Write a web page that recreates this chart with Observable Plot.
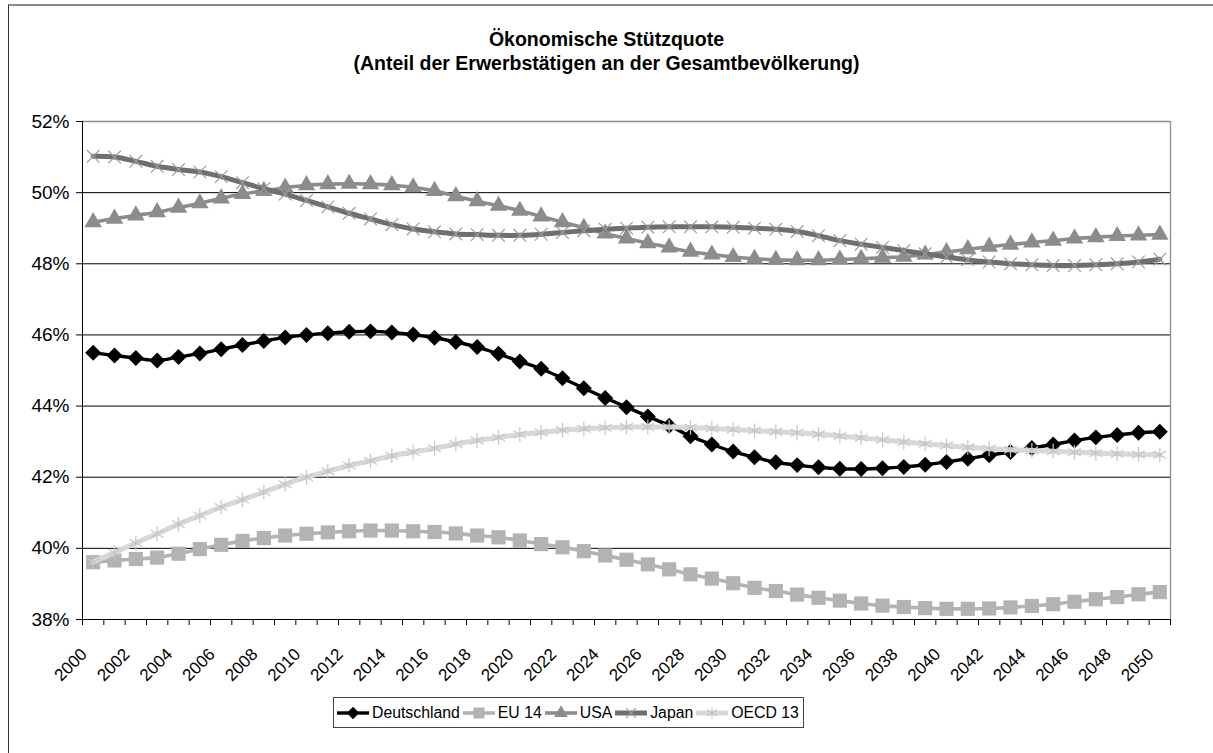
<!DOCTYPE html>
<html>
<head>
<meta charset="utf-8">
<script src="https://cdn.jsdelivr.net/npm/d3@7"></script>
<script src="https://cdn.jsdelivr.net/npm/@observablehq/plot@0.6"></script>
<style>
  body { margin: 0; background: #fff; font-family: "Liberation Sans", Arial, sans-serif; }
  #wrap { position: relative; width: 1213px; height: 753px; overflow: hidden; background: #fff; }
  #frame { position: absolute; left: 8px; top: 4px; width: 1260px; height: 800px; border-top: 2px solid #8c8c8c; border-left: 1px solid #333; }
  #title { position: absolute; left: 8px; width: 1197px; top: 27px; text-align: center; font-weight: bold; font-size: 19.5px; line-height: 24px; color: #000; }
  #chart { position: absolute; left: 0; top: 0; }
  #legend { position: absolute; left: 333px; top: 697px; height: 29px; border: 1px solid #444; background: #fff; display: flex; align-items: center; padding: 0 2px 0 2px; font-size: 15.8px; color: #000; white-space: nowrap; }
  #legend .item { display: flex; align-items: center; margin-right: 2px; }
  #legend svg { margin-right: 2px; }
</style>
</head>
<body>
<div id="wrap">
  <div id="frame"></div>
  <div id="chart"></div>
  <div id="title">Ökonomische Stützquote<br>(Anteil der Erwerbstätigen an der Gesamtbevölkerung)</div>
  <div id="legend"></div>
</div>
<script>
// ---- Data ----
const years = [2000,2001,2002,2003,2004,2005,2006,2007,2008,2009,
  2010,2011,2012,2013,2014,2015,2016,2017,2018,2019,
  2020,2021,2022,2023,2024,2025,2026,2027,2028,2029,
  2030,2031,2032,2033,2034,2035,2036,2037,2038,2039,
  2040,2041,2042,2043,2044,2045,2046,2047,2048,2049,2050];

const labelYears = [2000,2002,2004,2006,2008,2010,2012,2014,2016,2018,2020,2022,2024,
  2026,2028,2030,2032,2034,2036,2038,2040,2042,2044,2046,2048,2050];

const yTicks = [38, 40, 42, 44, 46, 48, 50, 52];

const seriesNames = ["Deutschland", "EU 14", "USA", "Japan", "OECD 13"];

const deutschland = [45.50,45.42,45.35,45.28,45.38,45.48,45.60,45.72,45.83,45.93,
  46.00,46.05,46.09,46.10,46.07,46.01,45.92,45.80,45.66,45.47,
  45.25,45.05,44.78,44.50,44.23,43.97,43.71,43.45,43.15,42.92,
  42.72,42.56,42.42,42.34,42.28,42.24,42.23,42.25,42.29,42.35,
  42.43,42.52,42.62,42.71,42.82,42.92,43.03,43.12,43.19,43.25,43.28];

const eu14 = [39.61,39.66,39.70,39.74,39.85,39.98,40.10,40.21,40.29,40.36,
  40.41,40.45,40.48,40.50,40.50,40.48,40.46,40.42,40.36,40.31,
  40.22,40.12,40.03,39.92,39.80,39.68,39.55,39.41,39.27,39.15,
  39.02,38.89,38.80,38.70,38.61,38.53,38.45,38.39,38.35,38.32,
  38.30,38.30,38.31,38.34,38.38,38.43,38.50,38.57,38.63,38.71,38.77];

const usa = [49.17,49.27,49.36,49.45,49.58,49.70,49.84,49.96,50.05,50.14,
  50.21,50.24,50.25,50.24,50.21,50.15,50.05,49.90,49.76,49.63,
  49.49,49.33,49.17,49.01,48.85,48.71,48.58,48.46,48.34,48.26,
  48.19,48.14,48.11,48.10,48.10,48.12,48.14,48.17,48.20,48.26,
  48.33,48.41,48.48,48.54,48.60,48.65,48.71,48.75,48.78,48.80,48.82];

const japan = [51.02,51.00,50.88,50.74,50.65,50.58,50.45,50.28,50.11,49.96,
  49.78,49.60,49.42,49.26,49.10,48.98,48.90,48.84,48.82,48.80,
  48.80,48.83,48.88,48.93,48.97,49.00,49.03,49.04,49.04,49.04,
  49.03,49.00,48.97,48.91,48.79,48.65,48.55,48.46,48.37,48.28,
  48.19,48.11,48.05,48.00,47.97,47.95,47.95,47.97,48.00,48.05,48.13];

const oecd13 = [39.62,39.88,40.15,40.41,40.68,40.92,41.16,41.37,41.58,41.80,
  42.00,42.17,42.33,42.46,42.60,42.71,42.81,42.93,43.03,43.12,
  43.20,43.26,43.32,43.36,43.39,43.41,43.41,43.41,43.40,43.37,
  43.34,43.31,43.28,43.25,43.21,43.16,43.11,43.05,42.99,42.94,
  42.89,42.84,42.80,42.77,42.75,42.73,42.70,42.68,42.66,42.64,42.63];

const seriesValues = [deutschland, eu14, usa, japan, oecd13];

// ---- Styles ----
const styles = {
  "Deutschland": {line: "#000000", lw: 3.4, symbol: "diamond2", fill: "#000000", stroke: "none", r: 7.2, sw: 0},
  "EU 14":       {line: "#b3b3b3", lw: 3.6, symbol: "square",   fill: "#b3b3b3", stroke: "none", r: 8.0, sw: 0},
  "USA":         {line: "#8c8c8c", lw: 3.6, symbol: "triangle", fill: "#8c8c8c", stroke: "none", r: 6.5, sw: 0},
  "Japan":       {line: "#6f6f6f", lw: 5,   symbol: "times",    fill: "none",    stroke: "#9c9c9c", r: 5.8, sw: 1.2},
  "OECD 13":     {line: "#d8d8d8", lw: 5,   symbol: "asterisk", fill: "none",    stroke: "#c6c6c6", r: 7.0, sw: 1.2}
};

const rows = [];
seriesNames.forEach((s, k) => {
  years.forEach((yr, i) => rows.push({series: s, year: yr, value: seriesValues[k][i]}));
});

const bounds = d3.range(years[0] - 0.5, years[years.length - 1] + 1, 1);

const seriesMarks = [];
seriesNames.forEach(s => {
  const st = styles[s];
  const d = rows.filter(r => r.series === s);
  seriesMarks.push(Plot.line(d, {x: "year", y: "value", stroke: st.line, strokeWidth: st.lw, curve: "catmull-rom"}));
  seriesMarks.push(Plot.dot(d, {x: "year", y: "value", symbol: st.symbol, r: st.r, fill: st.fill, stroke: st.stroke, strokeWidth: st.sw}));
});

const chart = Plot.plot({
  width: 1213,
  height: 700,
  marginTop: 121,
  marginBottom: 81,
  marginLeft: 82,
  marginRight: 43,
  style: {fontFamily: "'Liberation Sans', Arial, sans-serif", background: "transparent", color: "#000"},
  x: {domain: [years[0] - 0.5, years[years.length - 1] + 0.5], label: null},
  y: {domain: [yTicks[0], yTicks[yTicks.length - 1]], label: null},
  marks: [
    Plot.gridY(yTicks.slice(1, -1), {stroke: "#000", strokeOpacity: 1, strokeWidth: 1}),
    Plot.ruleY([yTicks[yTicks.length - 1]], {stroke: "#8c8c8c", strokeWidth: 1.3}),
    Plot.ruleX([years[years.length - 1] + 0.5], {stroke: "#8c8c8c", strokeWidth: 1.3}),
    ...seriesMarks,
    Plot.ruleY([yTicks[0]], {stroke: "#000"}),
    Plot.ruleX([years[0] - 0.5], {stroke: "#000"}),
    Plot.axisX({ticks: bounds, tickSize: 6, tickFormat: () => "", stroke: "#000"}),
    Plot.text(labelYears, {x: d => d, frameAnchor: "bottom", rotate: -45, textAnchor: "end", lineAnchor: "middle", dx: -9, dy: 32, fontSize: 17, fill: "#000", text: d => String(d)}),
    Plot.axisY({ticks: yTicks, tickSize: 6, tickPadding: 7, fontSize: 19, tickFormat: d => d + "%", stroke: "#000"})
  ]
});
document.getElementById("chart").appendChild(chart);

// ---- Legend ----
const symbolTypes = {diamond2: d3.symbolDiamond2, square: d3.symbolSquare, triangle: d3.symbolTriangle, times: d3.symbolTimes, asterisk: d3.symbolAsterisk};
const legend = document.getElementById("legend");
seriesNames.forEach(s => {
  const st = styles[s];
  const item = document.createElement("div");
  item.className = "item";
  const ns = "http://www.w3.org/2000/svg";
  const svg = document.createElementNS(ns, "svg");
  svg.setAttribute("width", 34); svg.setAttribute("height", 16);
  const ln = document.createElementNS(ns, "line");
  ln.setAttribute("x1", 1); ln.setAttribute("x2", 33); ln.setAttribute("y1", 8); ln.setAttribute("y2", 8);
  ln.setAttribute("stroke", st.line); ln.setAttribute("stroke-width", st.lw);
  svg.appendChild(ln);
  const p = document.createElementNS(ns, "path");
  p.setAttribute("transform", "translate(17,8)");
  p.setAttribute("d", d3.symbol(symbolTypes[st.symbol], Math.PI * st.r * st.r * 0.6)());
  p.setAttribute("fill", st.fill);
  p.setAttribute("stroke", st.stroke);
  p.setAttribute("stroke-width", st.sw);
  svg.appendChild(p);
  item.appendChild(svg);
  const t = document.createElement("span");
  t.textContent = s;
  item.appendChild(t);
  legend.appendChild(item);
});
</script>
</body>
</html>
